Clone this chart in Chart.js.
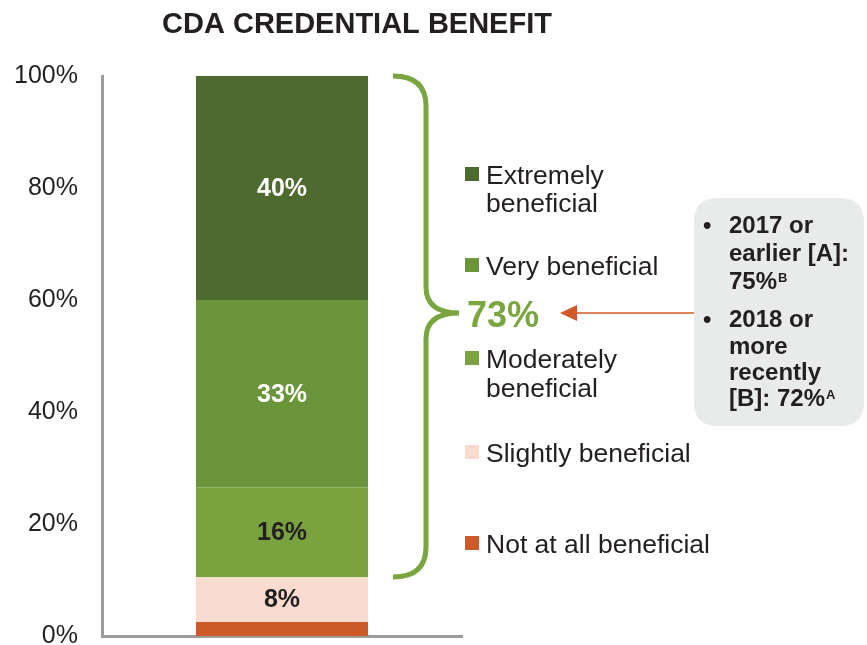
<!DOCTYPE html>
<html>
<head>
<meta charset="utf-8">
<script src="https://cdn.jsdelivr.net/npm/chart.js@4/dist/chart.umd.min.js"></script>
<style>
  html, body { margin: 0; padding: 0; background: #ffffff; }
  #wrap { width: 867px; height: 645px; position: relative; }
</style>
</head>
<body>
<div id="wrap"><canvas id="c" width="867" height="645"></canvas></div>
<script>
// ---- Data ----
const categories = ['CDA Credential Benefit'];
const seriesNames = ['Not at all beneficial', 'Slightly beneficial', 'Moderately beneficial', 'Very beneficial', 'Extremely beneficial'];
const seriesValues = [2.5, 8, 16, 33.5, 40];
const valueLabels = ['', '8%', '16%', '33%', '40%'];
const legendLines = [['Not at all beneficial'], ['Slightly beneficial'], ['Moderately', 'beneficial'], ['Very beneficial'], ['Extremely', 'beneficial']];
const yTicks = [0, 20, 40, 60, 80, 100];
const titleText = 'CDA CREDENTIAL BENEFIT';
const totalLabel = '73%';
const boxItems = [
  { lines: ['2017 or', 'earlier [A]:', '75%'], sup: 'B' },
  { lines: ['2018 or', 'more', 'recently', '[B]: 72%'], sup: 'A' }
];

// ---- Styles ----
const colors = ['#cd5a28', '#f8dccf', '#7aa23f', '#6b953a', '#4f6a2f'];
const labelColors = ['#ffffff', '#231f20', '#231f20', '#ffffff', '#ffffff'];
const FONT = '"Liberation Sans", Arial, sans-serif';
const TEXT = '#231f20';
const GREEN = '#7aa63f';

const datasets = seriesNames.map((n, i) => ({
  label: n,
  data: [seriesValues[i]],
  backgroundColor: colors[i],
  borderWidth: 0,
  barPercentage: 0.478,
  categoryPercentage: 1.0
}));

const decorPlugin = {
  id: 'decor',
  afterDatasetsDraw(chart) {
    const ctx = chart.ctx;
    chart.data.datasets.forEach((ds, i) => {
      const el = chart.getDatasetMeta(i).data[0];
      if (!valueLabels[i]) return;
      const yc = (el.y + el.base) / 2;
      ctx.save();
      ctx.font = 'bold 25px ' + FONT;
      ctx.fillStyle = labelColors[i];
      ctx.textAlign = 'center';
      ctx.textBaseline = 'middle';
      ctx.fillText(valueLabels[i], el.x, yc + 1);
      ctx.restore();
    });
  },
  afterDraw(chart) {
    const ctx = chart.ctx;
    ctx.save();
    // Title
    ctx.font = 'bold 29px ' + FONT;
    ctx.fillStyle = TEXT;
    ctx.textAlign = 'center';
    ctx.textBaseline = 'alphabetic';
    ctx.fillText(titleText, 357, 33);

    // Brace
    ctx.strokeStyle = GREEN;
    ctx.lineWidth = 5;
    ctx.lineCap = 'butt';
    ctx.lineJoin = 'round';
    ctx.beginPath();
    ctx.moveTo(393, 76);
    ctx.quadraticCurveTo(426, 76, 426, 106);
    ctx.lineTo(426, 287);
    ctx.quadraticCurveTo(426, 313, 459, 313);
    ctx.moveTo(459, 313);
    ctx.quadraticCurveTo(426, 313, 426, 339);
    ctx.lineTo(426, 547);
    ctx.quadraticCurveTo(426, 577, 393, 577);
    ctx.stroke();

    // 73%
    ctx.font = 'bold 36px ' + FONT;
    ctx.fillStyle = GREEN;
    ctx.textAlign = 'left';
    ctx.textBaseline = 'alphabetic';
    ctx.fillText(totalLabel, 467, 327);

    // Legend
    const legendBase = [[553], [462], [368, 397], [275], [184, 212]];
    ctx.font = '26.5px ' + FONT;
    ctx.textAlign = 'left';
    legendLines.forEach((lines, i) => {
      const b = legendBase[i];
      ctx.fillStyle = colors[i];
      ctx.fillRect(465, b[0] - 17, 14, 14);
      ctx.fillStyle = TEXT;
      lines.forEach((t, k) => ctx.fillText(t, 486, b[k]));
    });

    // Grey box
    const bx = 694, by = 198, bw = 170, bh = 228, r = 24;
    ctx.fillStyle = '#e9eaea';
    ctx.beginPath();
    ctx.moveTo(bx + r, by);
    ctx.lineTo(bx + bw - r, by);
    ctx.quadraticCurveTo(bx + bw, by, bx + bw, by + r);
    ctx.lineTo(bx + bw, by + bh - r);
    ctx.quadraticCurveTo(bx + bw, by + bh, bx + bw - r, by + bh);
    ctx.lineTo(bx + r, by + bh);
    ctx.quadraticCurveTo(bx, by + bh, bx, by + bh - r);
    ctx.lineTo(bx, by + r);
    ctx.quadraticCurveTo(bx, by, bx + r, by);
    ctx.closePath();
    ctx.fill();

    // Arrow
    ctx.strokeStyle = '#e0825a';
    ctx.lineWidth = 2;
    ctx.beginPath();
    ctx.moveTo(694, 313);
    ctx.lineTo(574, 313);
    ctx.stroke();
    ctx.fillStyle = '#d05a28';
    ctx.beginPath();
    ctx.moveTo(560, 313);
    ctx.lineTo(577, 305);
    ctx.lineTo(577, 321);
    ctx.closePath();
    ctx.fill();

    // Box text
    const boxBase = [[233, 261, 289], [327, 354, 380, 406]];
    ctx.fillStyle = TEXT;
    boxItems.forEach((item, j) => {
      ctx.font = 'bold 24px ' + FONT;
      ctx.fillText('\u2022', 703, boxBase[j][0]);
      item.lines.forEach((t, k) => {
        ctx.font = 'bold 24px ' + FONT;
        ctx.fillText(t, 729, boxBase[j][k]);
        if (k === item.lines.length - 1) {
          const w = ctx.measureText(t).width;
          ctx.font = 'bold 13px ' + FONT;
          ctx.fillText(item.sup, 729 + w + 1, boxBase[j][k] - 7);
        }
      });
    });
    ctx.restore();
  }
};

new Chart(document.getElementById('c'), {
  type: 'bar',
  data: { labels: categories, datasets },
  options: {
    responsive: false,
    animation: false,
    layout: { padding: { left: 0, right: 405, top: 76, bottom: 9 } },
    plugins: { legend: { display: false }, title: { display: false }, tooltip: { enabled: false } },
    scales: {
      x: {
        stacked: true,
        ticks: { display: false, padding: 0 },
        grid: { display: false, drawTicks: false },
        border: { display: true, color: '#9b9b9b', width: 3 },
        afterFit: s => { s.height = 0; }
      },
      y: {
        stacked: true,
        min: 0, max: 100,
        afterBuildTicks: s => { s.ticks = yTicks.map(v => ({ value: v })); },
        ticks: {
          callback: v => v + '%',
          font: { family: FONT, size: 25, lineHeight: 0.6 },
          color: TEXT,
          padding: 0
        },
        grid: { display: false, drawTicks: true, tickLength: 24 },
        border: { display: true, color: '#9b9b9b', width: 3 },
        afterFit: s => { s.width = 102; }
      }
    }
  },
  plugins: [decorPlugin]
});
</script>
</body>
</html>
